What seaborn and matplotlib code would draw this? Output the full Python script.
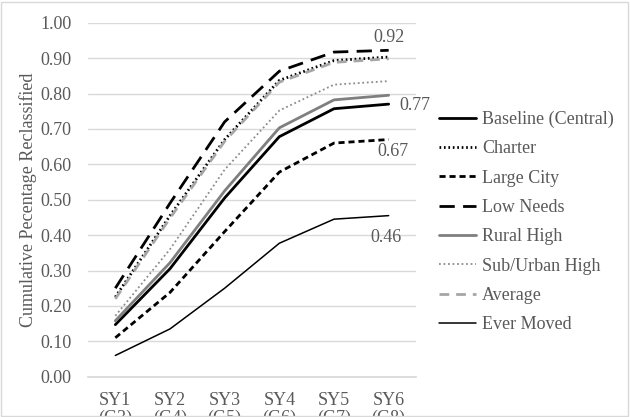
import numpy as np
import pandas as pd
import seaborn as sns
import matplotlib.pyplot as plt

years = ['SY1\n(G3)', 'SY2\n(G4)', 'SY3\n(G5)', 'SY4\n(G6)', 'SY5\n(G7)', 'SY6\n(G8)']

baseline = [0.147, 0.305, 0.505, 0.678, 0.757, 0.770]
charter = [0.225, 0.455, 0.670, 0.837, 0.893, 0.903]
large_city = [0.110, 0.238, 0.410, 0.578, 0.660, 0.670]
low_needs = [0.250, 0.490, 0.720, 0.863, 0.917, 0.922]
rural_high = [0.158, 0.322, 0.525, 0.703, 0.782, 0.795]
suburban_high = [0.172, 0.360, 0.585, 0.752, 0.825, 0.835]
average = [0.220, 0.448, 0.665, 0.832, 0.888, 0.898]
ever_moved = [0.060, 0.135, 0.250, 0.377, 0.445, 0.455]

series = ['Baseline (Central)', 'Charter', 'Large City', 'Low Needs',
          'Rural High', 'Sub/Urban High', 'Average', 'Ever Moved']
values = [baseline, charter, large_city, low_needs,
          rural_high, suburban_high, average, ever_moved]

styles = {
    'Baseline (Central)': dict(color='black', lw=2.0, ls='-'),
    'Charter': dict(color='black', lw=2.0, ls=(0, (0.6, 1.0))),
    'Large City': dict(color='black', lw=2.0, ls=(0, (2.2, 1.4))),
    'Low Needs': dict(color='black', lw=2.0, ls=(0, (5.5, 3))),
    'Rural High': dict(color='#7f7f7f', lw=2.0, ls='-'),
    'Sub/Urban High': dict(color='#8c8c8c', lw=1.3, ls=(0, (1, 1.5))),
    'Average': dict(color='#a6a6a6', lw=2.0, ls=(0, (3.5, 2.5))),
    'Ever Moved': dict(color='black', lw=1.1, ls='-'),
}

df = pd.DataFrame({
    'x': np.tile(np.arange(len(years)), len(series)),
    'value': np.concatenate(values),
    'series': np.repeat(series, len(years)),
})

sns.set_theme(style='white')
plt.rcParams['font.family'] = ['Liberation Serif', 'DejaVu Serif']
text_color = '#595959'
fs = 13

fig = plt.figure(figsize=(6.3, 4.17), dpi=100)
ax = fig.add_axes([88 / 630, 1 - 376.7 / 417, (416 - 88) / 630, (376.7 - 22.7) / 417])

for name in series:
    st = styles[name]
    sub = df[df['series'] == name]
    sns.lineplot(data=sub, x='x', y='value', ax=ax, color=st['color'],
                 linewidth=st['lw'], linestyle=st['ls'], label=name)

ax.set_xlim(-0.5, 5.5)
ax.set_ylim(0, 1.0)
ax.set_yticks(np.arange(0, 1.01, 0.1))
ax.set_yticklabels([f'{v:.2f}' for v in np.arange(0, 1.01, 0.1)])
ax.set_xticks(range(len(years)))
ax.set_xticklabels(years, linespacing=1.05)
ax.grid(axis='y', color='#d9d9d9', lw=1)
ax.set_axisbelow(True)
for s in ['top', 'right', 'left']:
    ax.spines[s].set_visible(False)
ax.spines['bottom'].set_color('#d9d9d9')
ax.tick_params(axis='both', colors=text_color, labelsize=fs, length=0)
ax.tick_params(axis='y', pad=12)
ax.tick_params(axis='x', pad=11)
ax.set_xlabel('')
ax.set_ylabel('Cumulative Pecentage Reclassified', color=text_color, fontsize=fs, labelpad=2)

# data labels on the last point
lab = dict(textcoords='offset points', color=text_color, fontsize=fs, annotation_clip=False)
ax.annotate(f'{low_needs[-1]:.2f}', (5, low_needs[-1]), xytext=(0, 9),
            ha='center', va='center', **lab)
ax.annotate(f'{baseline[-1]:.2f}', (5, baseline[-1]), xytext=(8, -1),
            ha='left', va='center', **lab)
ax.annotate(f'{large_city[-1]:.2f}', (5, large_city[-1]), xytext=(3, -8.5),
            ha='center', va='center', **lab)
ax.annotate(f'{ever_moved[-1]:.2f}', (5, ever_moved[-1]), xytext=(-2, -15.5),
            ha='center', va='center', **lab)

leg = ax.legend(loc='center left', bbox_to_anchor=(439 / 630, 1 - 222 / 417),
                bbox_transform=fig.transFigure, frameon=False,
                fontsize=fs, handlelength=2.05, handletextpad=0.33, labelspacing=0.68,
                borderaxespad=0, borderpad=0)
for t in leg.get_texts():
    t.set_color(text_color)

fig.patches.append(plt.Rectangle((0.002, 0.002), 0.995, 0.994, transform=fig.transFigure,
                                 fill=False, edgecolor='#d9d9d9', lw=1))

fig.savefig('out.png', dpi=100)
